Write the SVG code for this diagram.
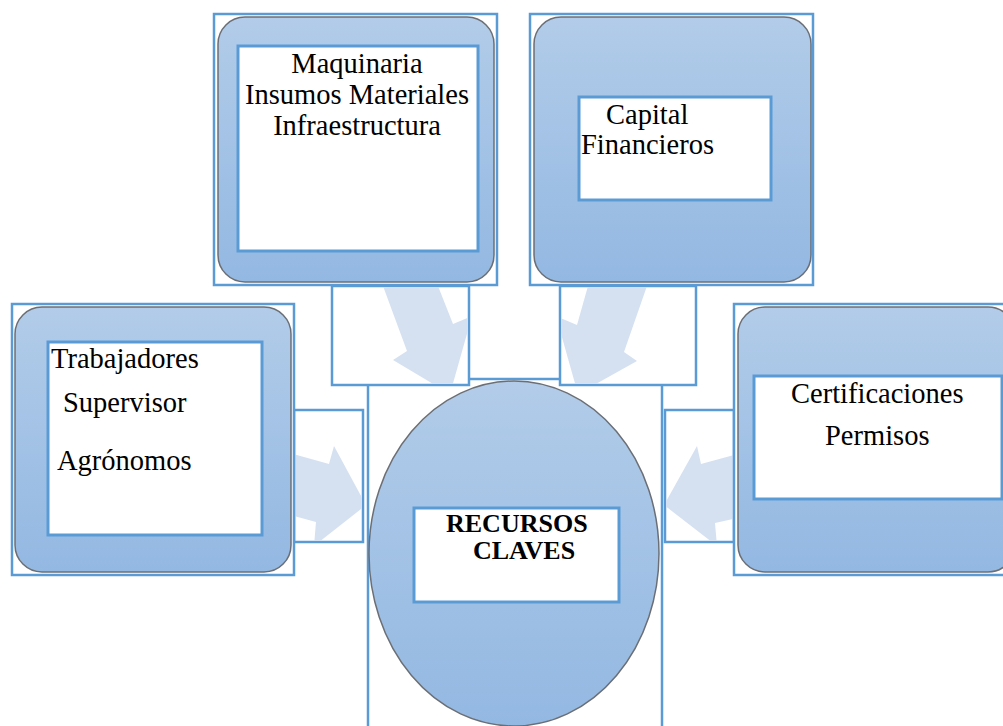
<svg xmlns="http://www.w3.org/2000/svg" width="1003" height="726" viewBox="0 0 1003 726">
<style>
.frame{fill:#ffffff;stroke:#5b9bd5;stroke-width:2.5}
.card{fill:url(#g);stroke:#6b6f75;stroke-width:1.5}
.inner{fill:#ffffff;stroke:#5b9bd5;stroke-width:3}
.t{font-family:"Liberation Serif","Times New Roman",serif;font-size:28.5px;fill:#000}
.tb{font-family:"Liberation Serif","Times New Roman",serif;font-size:26px;font-weight:bold;fill:#000}
.arr{fill:#d5e1f1}
</style>
<defs>
<linearGradient id="g" x1="0" y1="0" x2="0" y2="1">
<stop offset="0" stop-color="#b2cce9"/>
<stop offset="1" stop-color="#93b8e2"/>
</linearGradient>
<clipPath id="c1"><rect x="333" y="287" width="135" height="97"/></clipPath>
<clipPath id="c2"><rect x="561" y="287" width="134" height="97"/></clipPath>
<clipPath id="c3"><rect x="295" y="411" width="67" height="130"/></clipPath>
<clipPath id="c4"><rect x="666" y="411" width="67" height="130"/></clipPath>
</defs>
<rect width="1003" height="726" fill="#ffffff"/>

<g id="node-center">
<rect class="frame" x="368" y="379" width="294" height="360"/>
<ellipse class="card" cx="514" cy="553.5" rx="145" ry="172.5"/>
<rect class="inner" x="414" y="508" width="205" height="94"/>
<text class="tb" x="446" y="532">RECURSOS</text>
<text class="tb" x="473" y="559">CLAVES</text>
</g>

<g id="connectors">
<rect class="frame" x="332" y="286" width="137" height="99"/>
<polygon class="arr" clip-path="url(#c1)" points="383,286 438,286 453,324 472,316 450,394 393,360 407,351"/>
<rect class="frame" x="560" y="286" width="136" height="99"/>
<polygon class="arr" clip-path="url(#c2)" points="588,286 647,286 624,352 637,361 578,394 556,316 577,325"/>
<rect class="frame" x="294" y="410" width="69" height="132"/>
<polygon class="arr" clip-path="url(#c3)" points="290,453 329,464 334,446 366,505 314,546 316,522 290,515"/>
<rect class="frame" x="665" y="410" width="69" height="132"/>
<polygon class="arr" clip-path="url(#c4)" points="738,454 701,464 697,446 664,505 717,546 715,523 738,518"/>
</g>

<g id="node-maquinaria">
<rect class="frame" x="214" y="14" width="283" height="271"/>
<rect class="card" x="218" y="17" width="276" height="265" rx="27" ry="27"/>
<rect class="inner" x="238" y="46" width="240" height="205"/>
<text class="t" x="357" y="73" text-anchor="middle">Maquinaria</text>
<text class="t" x="357" y="104" text-anchor="middle">Insumos Materiales</text>
<text class="t" x="357" y="135" text-anchor="middle">Infraestructura</text>
</g>

<g id="node-capital">
<rect class="frame" x="530" y="14" width="283" height="271"/>
<rect class="card" x="534" y="17" width="277" height="265" rx="27" ry="27"/>
<rect class="inner" x="579" y="97" width="192" height="103"/>
<text class="t" x="606" y="124">Capital</text>
<text class="t" x="581" y="154">Financieros</text>
</g>

<g id="node-trabajadores">
<rect class="frame" x="12" y="304" width="282" height="271"/>
<rect class="card" x="15" y="307" width="276" height="265" rx="27" ry="27"/>
<rect class="inner" x="48" y="342" width="214" height="193"/>
<text class="t" x="51" y="368">Trabajadores</text>
<text class="t" x="63" y="412">Supervisor</text>
<text class="t" x="57" y="470">Agrónomos</text>
</g>

<g id="node-certificaciones">
<rect class="frame" x="734" y="304" width="283" height="271"/>
<rect class="card" x="738" y="307" width="277" height="265" rx="27" ry="27"/>
<rect class="inner" x="754" y="376" width="248" height="123"/>
<text class="t" x="791" y="403">Certificaciones</text>
<text class="t" x="825" y="445">Permisos</text>
</g>
</svg>
